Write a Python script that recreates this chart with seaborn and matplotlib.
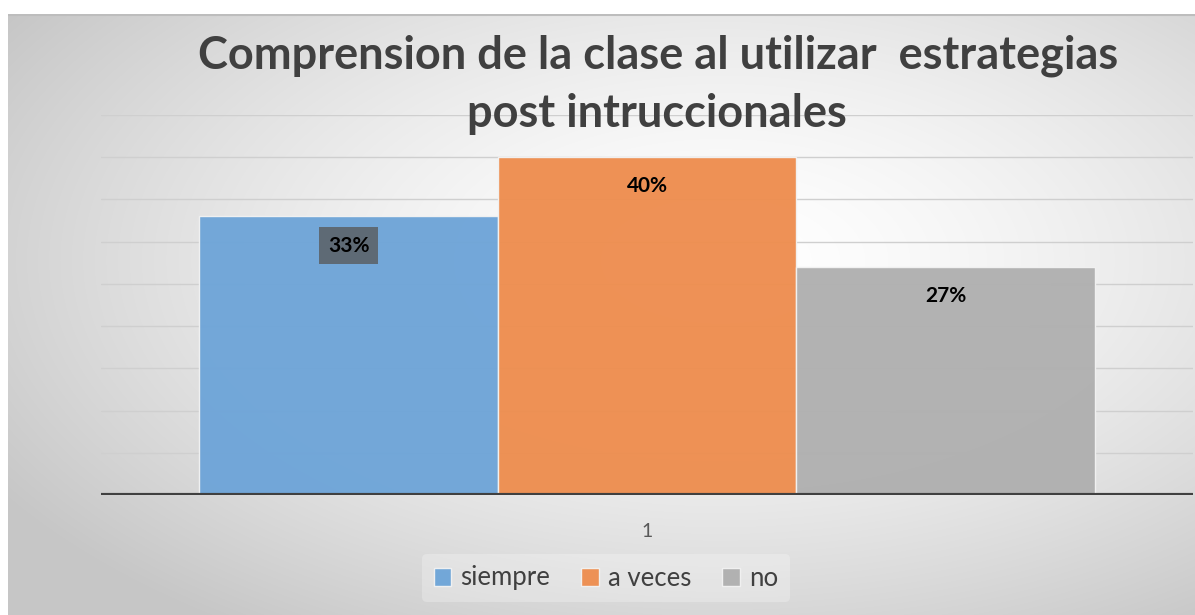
import numpy as np
import pandas as pd
import matplotlib
matplotlib.use("Agg")
import matplotlib.pyplot as plt
import seaborn as sns

sns.set_theme(style="white")
plt.rcParams['font.family'] = ['Lato', 'DejaVu Sans']

# data
categoria = ["1"]
series = ["siempre", "a veces", "no"]
valores = [0.33, 0.40, 0.27]
etiquetas = ["33%", "40%", "27%"]
colores = ["#6FA5D8", "#EE8E50", "#B0B0B0"]
titulo_1 = "Comprension de la clase al utilizar  estrategias"
titulo_2 = "post intruccionales"

df = pd.DataFrame({"cat": categoria * len(series), "serie": series, "valor": valores})

W, H = 1195, 615
fig = plt.figure(figsize=(W / 100, H / 100), dpi=100)
fig.patch.set_facecolor("white")

# radial gradient background like the excel chart area
bg = fig.add_axes([8 / W, 0, 1 - 8 / W, 1 - 14 / H], zorder=-5)
yy, xx = np.mgrid[0:H - 14, 0:W - 8]
r = np.sqrt(((xx + 8 - 720) / 850) ** 2 + ((yy + 14 - 260) / 450) ** 2)
g = 255 - 57 * np.clip(r, 0, 1) ** 1.5
img = np.dstack([g, g, g]) / 255
bg.imshow(img, aspect="auto", interpolation="bilinear")
bg.set_axis_off()
bg.axhline(0, color="#bdbdbd", lw=1.5)

ax = fig.add_axes([101 / W, (H - 495) / H, 1092 / W, (495 - 115) / H])
ax.patch.set_alpha(0)

sns.barplot(data=df, x="cat", y="valor", hue="serie", palette=colores,
            width=0.82, ax=ax, edgecolor="#f2f2f2", linewidth=1.0, alpha=0.97,
            saturation=1, zorder=2)

ax.set_ylim(0, 0.45)
ax.set_yticks(np.arange(0, 0.451, 0.05))
ax.yaxis.grid(True, color="#cfcfcf", lw=1, zorder=0)
ax.set_axisbelow(True)
ax.tick_params(axis="y", left=False, labelleft=False)
ax.tick_params(axis="x", bottom=False, pad=14, labelsize=14, labelcolor="#595959")
for s in ax.spines.values():
    s.set_visible(False)
ax.axhline(0, color="#404040", lw=3, zorder=4)
ax.set_xlabel("")
ax.set_ylabel("")

bars = [p for p in ax.patches if p.get_height() > 0]
for i, (p, lab) in enumerate(zip(bars, etiquetas)):
    box = dict(boxstyle="square,pad=0.4", fc="#5E6A75", ec="none") if i == 0 else None
    ax.annotate(lab, (p.get_x() + p.get_width() / 2, p.get_height()),
                xytext=(0, -21), textcoords="offset points",
                ha="center", va="center", fontsize=15, fontweight="bold",
                color="black", bbox=box, zorder=5)

handles, labels = ax.get_legend_handles_labels()
ax.get_legend().remove()
leg = fig.legend(handles, labels, loc="center", bbox_to_anchor=(606 / W, 1 - 578 / H),
                 ncol=3, frameon=True, fontsize=18.5, handlelength=0.7,
                 handleheight=0.7, handletextpad=0.35, columnspacing=1.2,
                 borderpad=0.45)
leg.get_frame().set_facecolor("white")
leg.get_frame().set_alpha(0.25)
leg.get_frame().set_edgecolor("none")
for t in leg.get_texts():
    t.set_color("#404040")

fig.text(658 / W, 1 - 56 / H, titulo_1, ha="center", va="center", fontsize=32.5,
         fontweight="bold", color="#404040")
fig.text(657 / W, 1 - 114 / H, titulo_2, ha="center", va="center", fontsize=32.5,
         fontweight="bold", color="#404040")

fig.savefig("out.png", dpi=100)
